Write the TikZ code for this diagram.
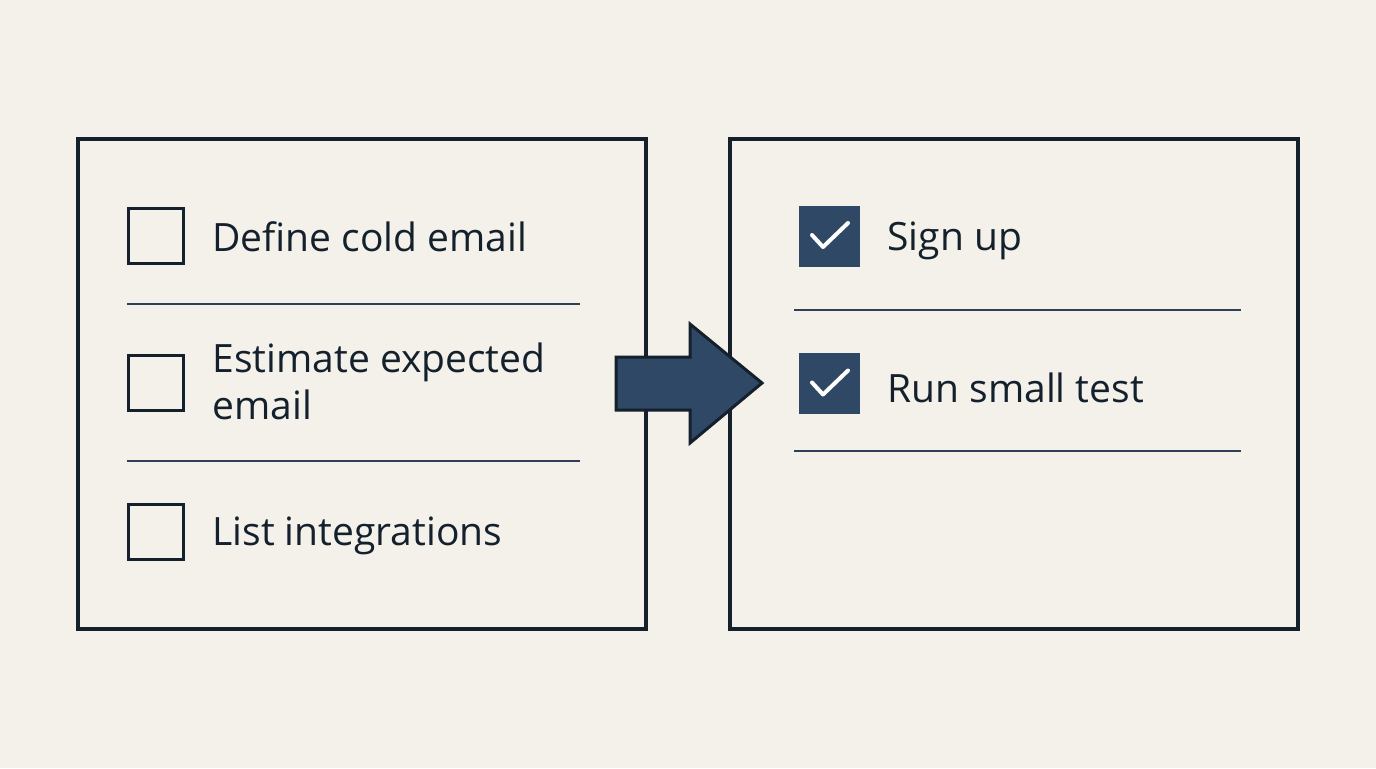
\documentclass[tikz,border=0pt]{standalone}
\usepackage{fontspec}
\setmainfont{Open Sans}
\definecolor{bg}{HTML}{F3F1EA}
\definecolor{ink}{HTML}{14202C}
\definecolor{navy}{HTML}{2E4866}
\definecolor{rule}{HTML}{2F3F56}
\tikzset{
  panel/.style={draw=ink, line width=1.6pt},
  cbox/.style={draw=ink, line width=1.8pt, minimum size=27.5pt, inner sep=0pt},
  fbox/.style={fill=navy, minimum size=30.5pt, inner sep=0pt},
  sep/.style={draw=rule, line width=0.9pt},
  lbl/.style={anchor=west, inner sep=0pt, text=ink, font=\fontsize{19.5pt}{23.5pt}\selectfont, align=left},
  tick/.style={draw=white, line width=2pt, line cap=round, line join=round}
}
\begin{document}
\begin{tikzpicture}[x=0.5pt,y=-0.5pt]
\fill[bg] (0,0) rectangle (1376,768);
\useasboundingbox (0,0) rectangle (1376,768);
% panels
\draw[panel] (78,139) rectangle (646,629);
\draw[panel] (730,139) rectangle (1298,629);
% left items
\node[cbox] (c1) at (156,236) {};
\node[cbox] (c2) at (156,383) {};
\node[cbox] (c3) at (156,532) {};
\node[lbl] (t1) at (212,237) {Define cold email};
\node[lbl] (t2) at (212,381) {Estimate expected\\email};
\node[lbl] (t3) at (212,536) {List integrations};
\coordinate (l1a) at (127,304); \coordinate (l1b) at (580,304);
\coordinate (l2a) at (127,461); \coordinate (l2b) at (580,461);
\draw[sep] (l1a) -- (l1b);
\draw[sep] (l2a) -- (l2b);
% right items
\node[fbox] (f1) at (829,236) {};
\node[fbox] (f2) at (829,383.5) {};
\draw[tick] ([shift={(-17,-1)}]f1.center) -- ([shift={(-6,11)}]f1.center) -- ([shift={(19,-13)}]f1.center);
\draw[tick] ([shift={(-17,-1)}]f2.center) -- ([shift={(-6,11)}]f2.center) -- ([shift={(19,-13)}]f2.center);
\node[lbl] (s1) at (887,241) {Sign up};
\node[lbl] (s2) at (887,388) {Run small test};
\coordinate (r1a) at (794,310); \coordinate (r1b) at (1241,310);
\coordinate (r2a) at (794,451); \coordinate (r2b) at (1241,451);
\draw[sep] (r1a) -- (r1b);
\draw[sep] (r2a) -- (r2b);
% arrow
\draw[fill=navy, draw=ink, line width=1.5pt, line join=miter]
  (616,357) -- (690,357) -- (690,324) -- (762,383) -- (690,443) -- (690,410) -- (616,410) -- cycle;
\end{tikzpicture}
\end{document}
